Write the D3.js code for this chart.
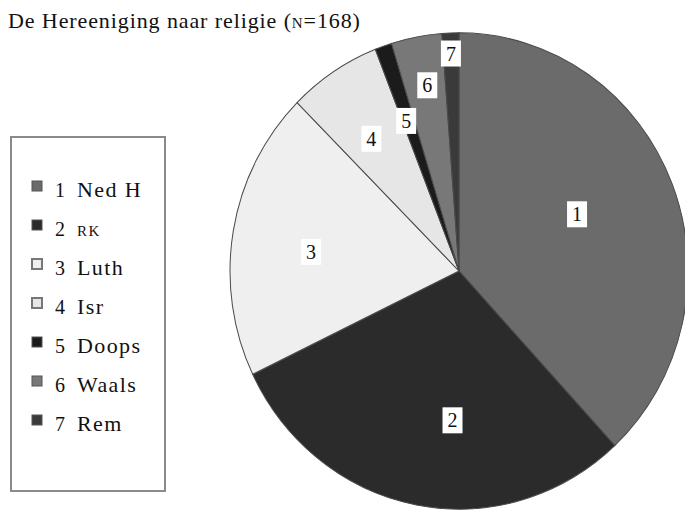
<!DOCTYPE html>
<html lang="nl">
<head>
<meta charset="UTF-8">
<script src="https://cdn.jsdelivr.net/npm/d3@7"></script>
<style>
  body { margin: 0; background: #fff; }
  text { font-family: "Liberation Serif", "DejaVu Serif", serif; fill: #111; }
</style>
</head>
<body>
<div id="chart"></div>
<script>
var codes = ["1", "2", "3", "4", "5", "6", "7"];
var names = ["Ned H", "RK", "Luth", "Isr", "Doops", "Waals", "Rem"];
var counts = [64, 50, 33, 11, 2, 6, 2];
var fills = ["#6b6b6b", "#2b2b2b", "#efefef", "#e6e6e6", "#1b1b1b", "#787878", "#3a3a3a"];
var title = "De Hereeniging naar religie (";

var width = 685, height = 510,
    cx = 459, cy = 271, R = 229, squash = 1.04;

var svg = d3.select("#chart").append("svg")
    .attr("width", width).attr("height", height);

// title
var t = svg.append("text").attr("x", 8).attr("y", 28)
    .style("font-size", "22px").style("letter-spacing", "0.9px");
t.append("tspan").text(title);
t.append("tspan").style("font-size", "15px").text("N");
t.append("tspan").text("=168)");

var pie = d3.pie().sort(null).value(function(d) { return d; });
var arcs = pie(counts);
var arc = d3.arc().innerRadius(0).outerRadius(R);

var g = svg.append("g")
    .attr("transform", "translate(" + cx + "," + cy + ") scale(1," + squash + ")");

g.selectAll("path.slice")
    .data(arcs)
    .enter().append("path")
    .attr("class", "slice")
    .attr("d", arc)
    .attr("fill", function(d, i) { return fills[i]; })
    .attr("stroke", "#4a4a4a")
    .attr("stroke-width", 1);

// label placement: radius and small angle nudge (degrees) per slice
var labelR = [133, 137, 150, 160, 160, 188, 216];
var labelNudge = [-6, -8, 0, 0, 0, 1, 0];

var lab = svg.append("g")
    .attr("transform", "translate(" + cx + "," + (cy + 7) + ")");

var lg = lab.selectAll("g.lab")
    .data(arcs)
    .enter().append("g")
    .attr("class", "lab")
    .attr("transform", function(d, i) {
        var a = (d.startAngle + d.endAngle) / 2 + labelNudge[i] * Math.PI / 180;
        var x = labelR[i] * Math.sin(a), y = -labelR[i] * Math.cos(a) * squash;
        return "translate(" + x + "," + y + ")";
    });

lg.append("rect")
    .attr("x", -10).attr("y", -13)
    .attr("width", 20).attr("height", 26)
    .attr("fill", "#fff");

lg.append("text")
    .attr("text-anchor", "middle")
    .attr("y", 7)
    .style("font-size", "20px")
    .text(function(d, i) { return codes[i]; });

// legend
var legend = svg.append("g").attr("transform", "translate(11,137)");
legend.append("rect")
    .attr("x", 0).attr("y", 0)
    .attr("width", 154).attr("height", 354)
    .attr("fill", "#fff")
    .attr("stroke", "#8a8a8a")
    .attr("stroke-width", 2);

var item = legend.selectAll("g.item")
    .data(names)
    .enter().append("g")
    .attr("class", "item")
    .attr("transform", function(d, i) { return "translate(0," + (60 + i * 39) + ")"; });

item.append("rect")
    .attr("x", 21).attr("y", -16)
    .attr("width", 10).attr("height", 10)
    .attr("fill", function(d, i) { return fills[i]; })
    .attr("stroke", function(d, i) { return i === 2 || i === 3 ? "#777" : "#555"; })
    .attr("stroke-width", function(d, i) { return i === 2 || i === 3 ? 2 : 1; });

item.append("text")
    .attr("x", 44).attr("y", 0)
    .style("font-size", "20px")
    .text(function(d, i) { return codes[i]; });

item.append("text")
    .attr("x", 66).attr("y", 0)
    .style("font-size", function(d, i) { return i === 1 ? "15px" : "22px"; })
    .style("letter-spacing", function(d, i) { return i === 1 ? "1.5px" : "1.4px"; })
    .text(function(d) { return d; });
</script>
</body>
</html>
